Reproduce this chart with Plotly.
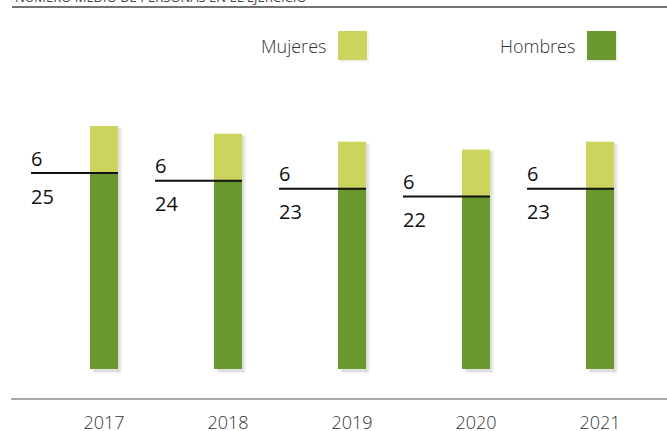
import plotly.graph_objects as go

years = ["2017", "2018", "2019", "2020", "2021"]
hombres = [25, 24, 23, 22, 23]
mujeres = [6, 6, 6, 6, 6]
title_text = "NÚMERO MEDIO DE PERSONAS EN EL EJERCICIO"

C_M = "#CBD55D"
C_H = "#6A972E"

W, H = 667, 431
ML, MR, MT, MB = 0, 0, 0, 32
PW = W - ML - MR
PH = H - MT - MB          # 399 px
PX_PER_CAT = 124.0
FIRST_CENTER = 104.0
PX_PER_UNIT = 7.84
BASE_PX = 369.0
XMIN = (ML - FIRST_CENTER) / PX_PER_CAT
XMAX = (W - MR - FIRST_CENTER) / PX_PER_CAT
YMIN = (BASE_PX - (MT + PH)) / PX_PER_UNIT
YMAX = (BASE_PX - MT) / PX_PER_UNIT

bw = 28 / PX_PER_CAT
xs = list(range(len(years)))
totals = [h + m for h, m in zip(hombres, mujeres)]

def px_x(p):
    return (p - ML) / PW

def px_y(p):
    return (PH + MT - p) / PH

fig = go.Figure()
# soft shadows
for dx, alpha in [(4, 0.05), (2.5, 0.07)]:
    fig.add_trace(go.Bar(
        x=xs, y=[t + 0.25 for t in totals], base=[-0.45] * len(xs),
        width=bw, offset=-bw / 2 + dx / PX_PER_CAT,
        marker=dict(color=f"rgba(0,0,0,{alpha})", line=dict(width=0)),
        hoverinfo="skip", showlegend=False))
fig.add_trace(go.Bar(x=xs, y=hombres, base=[0] * len(xs), width=bw, offset=-bw / 2,
                     marker=dict(color=C_H, line=dict(width=0)), name="Hombres", showlegend=False))
fig.add_trace(go.Bar(x=xs, y=mujeres, base=hombres, width=bw, offset=-bw / 2,
                     marker=dict(color=C_M, line=dict(width=0)), name="Mujeres", showlegend=False))

lab_off = -73 / PX_PER_CAT
num_font = dict(size=20, color="#111", family="Open Sans", weight=500)
for i, (h, m) in enumerate(zip(hombres, mujeres)):
    fig.add_trace(go.Scatter(x=[i + lab_off, i + bw / 2], y=[h, h], mode="lines",
                             line=dict(color="#111", width=2), hoverinfo="skip", showlegend=False))
    fig.add_annotation(x=i + lab_off, y=h, text=str(m), showarrow=False, xanchor="left",
                       yanchor="middle", yshift=15, xshift=-2, font=num_font)
    fig.add_annotation(x=i + lab_off, y=h, text=str(h), showarrow=False, xanchor="left",
                       yanchor="middle", yshift=-23, xshift=-2, font=num_font)

shapes = []
# top and bottom rules
shapes.append(dict(type="line", xref="paper", yref="paper", x0=px_x(12), x1=px_x(667),
                   y0=px_y(7), y1=px_y(7), line=dict(color="#444", width=1.5)))
shapes.append(dict(type="line", xref="paper", yref="paper", x0=px_x(11), x1=px_x(667),
                   y0=px_y(399), y1=px_y(399), line=dict(color="#555", width=1.2)))
# legend swatches
for x0, col in [(338, C_M), (587, C_H)]:
    shapes.append(dict(type="rect", xref="paper", yref="paper", x0=px_x(x0 + 2), x1=px_x(x0 + 31),
                       y0=px_y(62), y1=px_y(33), fillcolor="rgba(0,0,0,0.06)", line=dict(width=0)))
    shapes.append(dict(type="rect", xref="paper", yref="paper", x0=px_x(x0), x1=px_x(x0 + 29),
                       y0=px_y(60), y1=px_y(31), fillcolor=col, line=dict(width=0)))
leg_font = dict(size=18, color="#333", family="Open Sans", weight=300)
fig.add_annotation(xref="paper", yref="paper", x=px_x(328), y=px_y(46), text="Mujeres",
                   showarrow=False, xanchor="right", yanchor="middle", font=leg_font)
fig.add_annotation(xref="paper", yref="paper", x=px_x(577), y=px_y(46), text="Hombres",
                   showarrow=False, xanchor="right", yanchor="middle", font=leg_font)
fig.add_annotation(xref="paper", yref="paper", x=px_x(13), y=px_y(8), text=title_text,
                   showarrow=False, xanchor="left", yanchor="bottom",
                   font=dict(size=13, color="#444", family="Open Sans"))

fig.update_layout(
    width=W, height=H, margin=dict(l=ML, r=MR, t=MT, b=MB, pad=0),
    paper_bgcolor="white", plot_bgcolor="white", barmode="overlay",
    shapes=shapes, showlegend=False,
    xaxis=dict(range=[XMIN, XMAX], tickvals=xs, ticktext=years, showgrid=False, zeroline=False,
               showline=False, ticks="outside", ticklen=7, tickcolor="rgba(0,0,0,0)",
               tickfont=dict(size=18, color="#333", family="Open Sans", weight=300),
               fixedrange=True, automargin=False),
    yaxis=dict(range=[YMIN, YMAX], visible=False, fixedrange=True),
)
fig.write_html("out.html", config={"displayModeBar": False},
               post_script="document.body.style.margin='0';document.body.style.padding='0';")
